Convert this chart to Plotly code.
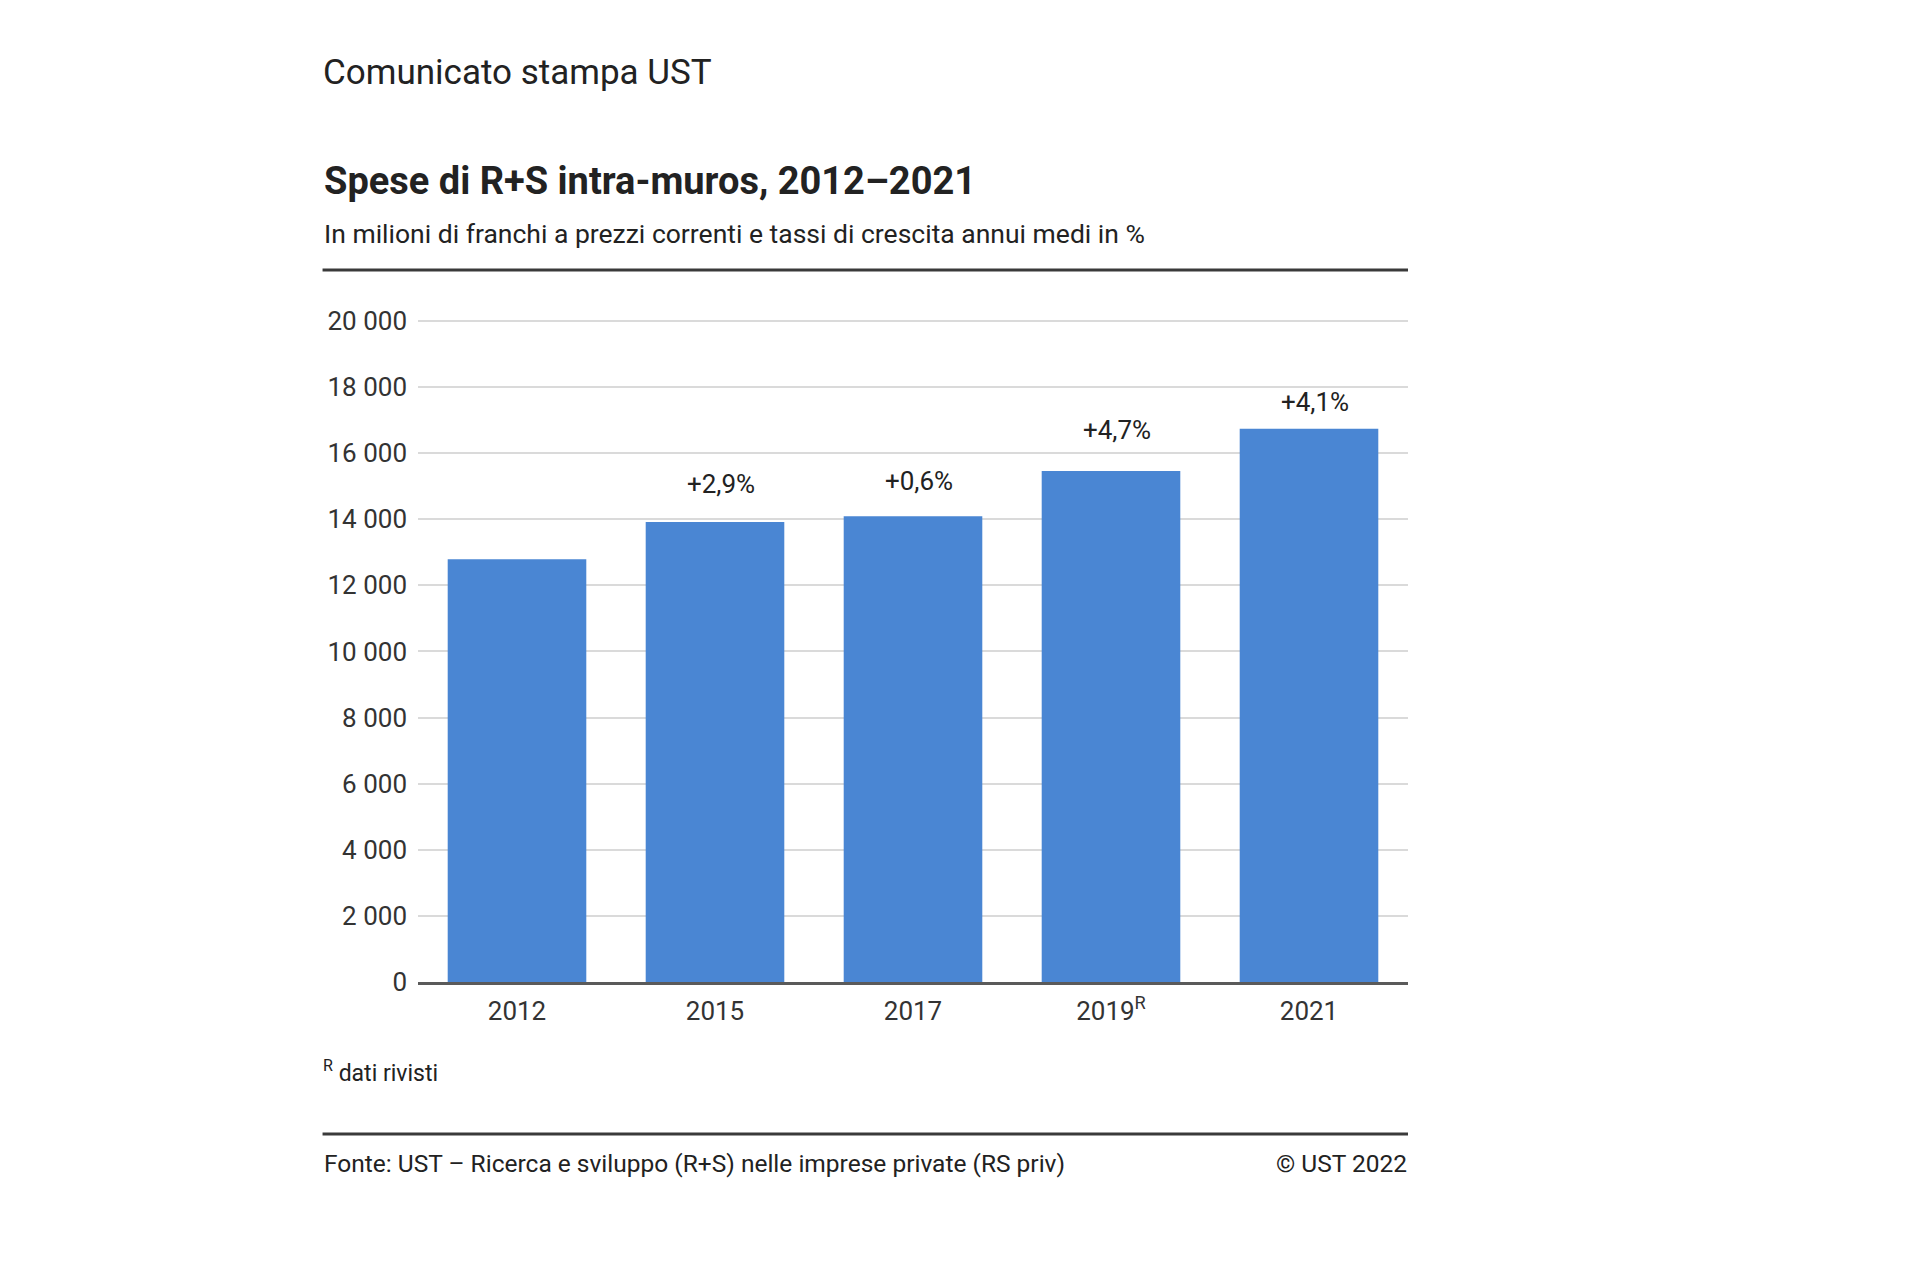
import plotly.graph_objects as go

# ---- data ----
years = ["2012", "2015", "2017", "2019", "2021"]
year_labels = ["2012", "2015", "2017", "2019<sup>R</sup>", "2021"]
spending = [12790, 13920, 14090, 15460, 16740]
growth_labels = ["", "+2,9%", "+0,6%", "+4,7%", "+4,1%"]
y_ticks = [0, 2000, 4000, 6000, 8000, 10000, 12000, 14000, 16000, 18000, 20000]

header = "Comunicato stampa UST"
title = "Spese di R+S intra-muros, 2012–2021"
subtitle = "In milioni di franchi a prezzi correnti e tassi di crescita annui medi in %"
footnote = "<sup>R</sup> dati rivisti"
source = "Fonte: UST – Ricerca e sviluppo (R+S) nelle imprese private (RS priv)"
copyright_txt = "© UST 2022"

# ---- layout geometry (pixels) ----
W, H = 1920, 1280
PL, PR, PT, PB = 417.5, 1408, 319, 982
FONT = "Roboto, Arial, sans-serif"
TXT = "#222222"


def px(x):
    return (x - PL) / (PR - PL)


def py(y):
    return (PB - y) / (PB - PT)


fig = go.Figure()
fig.add_trace(go.Bar(
    x=years, y=spending,
    marker=dict(color="#4a86d3", line=dict(width=0)),
    hoverinfo="skip",
))

annotations = []
label_shift = [22, 21, 18, 24, 10]
for i, (val, lab, sh) in enumerate(zip(spending, growth_labels, label_shift)):
    if lab:
        annotations.append(dict(
            x=i + 0.03, y=val, xref="x", yref="y", text=lab, showarrow=False,
            yanchor="bottom", yshift=sh,
            font=dict(family=FONT, size=26, color=TXT),
        ))


def text_ann(text, x, y, size, xanchor="left", bold=False, color=TXT):
    annotations.append(dict(
        x=px(x), y=py(y), xref="paper", yref="paper",
        text=f"<b>{text}</b>" if bold else text,
        showarrow=False, xanchor=xanchor, yanchor="middle",
        font=dict(family=FONT, size=size, color=color),
    ))


text_ann(header, 320, 72, 35)
text_ann(title, 321, 181, 38, bold=True)
text_ann(subtitle, 321, 233, 26.5)
text_ann(footnote, 320, 1071, 23)
text_ann(source, 321, 1163, 24.5)
text_ann(copyright_txt, 1409, 1163, 24.5, xanchor="right")

shapes = []
for yy in (270, 1134):
    shapes.append(dict(
        type="line", xref="paper", yref="paper",
        x0=px(322), x1=px(1408), y0=py(yy), y1=py(yy),
        line=dict(color="#3a3a3a", width=3),
    ))

fig.update_layout(
    width=W, height=H,
    margin=dict(l=PL, r=W - PR, t=PT, b=H - PB, pad=0),
    paper_bgcolor="white", plot_bgcolor="white",
    separators=", ",
    showlegend=False,
    bargap=0.3,
    font=dict(family=FONT, color=TXT),
    annotations=annotations,
    shapes=shapes,
    xaxis=dict(
        type="category", range=[-0.5, len(years) - 0.5],
        tickmode="array", tickvals=years, ticktext=year_labels,
        showgrid=False, showline=True, linecolor="#5a5a5a", linewidth=3,
        ticks="", ticklabelstandoff=4, tickangle=0,
        tickfont=dict(family=FONT, size=26, color="#333333"),
        fixedrange=True,
    ),
    yaxis=dict(
        range=[0, 20060], tickmode="array", tickvals=y_ticks, tickformat=",d",
        showgrid=True, gridcolor="#dadada", gridwidth=2,
        zeroline=False, showline=False, ticks="", ticklabelstandoff=10,
        tickfont=dict(family=FONT, size=26, color="#333333"),
        fixedrange=True,
    ),
)

fig.write_html("out.html")
